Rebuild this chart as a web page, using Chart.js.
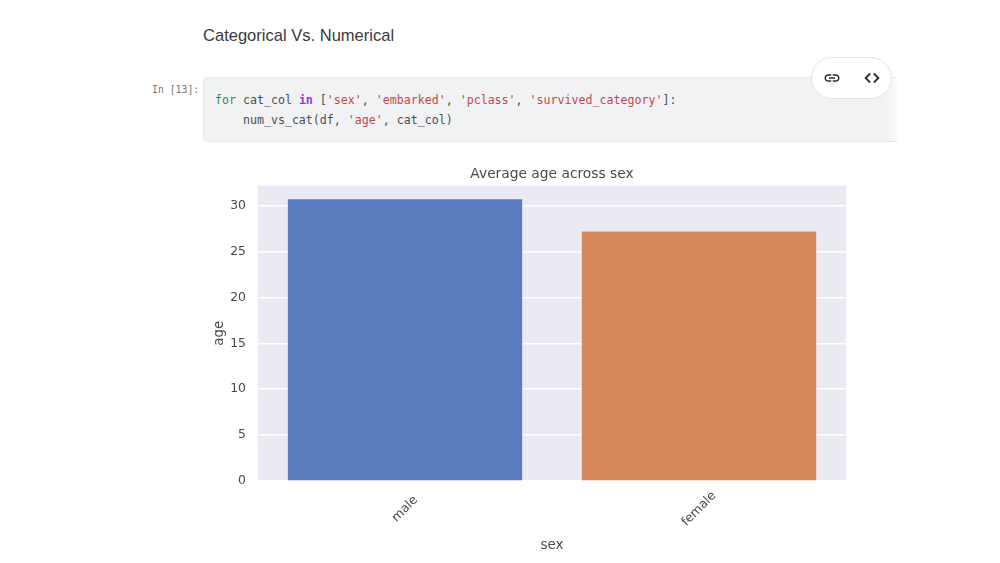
<!DOCTYPE html>
<html>
<head>
<meta charset="utf-8">
<title>Categorical Vs. Numerical</title>
<script src="https://cdn.jsdelivr.net/npm/chart.js@4/dist/chart.umd.min.js"></script>
<style>
  html, body { margin: 0; padding: 0; background: #fff; width: 1000px; height: 563px; overflow: hidden; }
  body { position: relative; font-family: "Liberation Sans", Roboto, sans-serif; }
  .heading { position: absolute; left: 203px; top: 26px; font-size: 16.55px; color: #3a3a3a; line-height: 20px; }
  .prompt { position: absolute; left: 152px; top: 84px; font: 9.8px/12px "DejaVu Sans Mono", monospace; color: #777; }
  .cell {
    position: absolute; left: 203px; top: 77px; width: 693px; height: 63px;
    background: linear-gradient(to right, #f1f2f3 98%, #f5f6f6 99.2%, #fbfbfb 100%);
    border: 1px solid #e6e7e8; border-right: none;
    border-radius: 5px 0 0 5px;
  }
  .code { position: absolute; left: 215px; top: 91px; font: 11.62px/19.5px "DejaVu Sans Mono", monospace; color: #4a4f52; white-space: pre; }
  .kw { color: #2f8a55; }
  .op { color: #a532d8; font-weight: bold; }
  .str { color: #c2474c; }
  .pill {
    position: absolute; left: 811px; top: 57px; width: 79px; height: 40px;
    background: #fff; border: 1px solid #e4e5e6; border-radius: 21px;
  }
  .pill svg { position: absolute; top: 11px; width: 18px; height: 18px; }
  #wrap { position: absolute; left: 200px; top: 161px; width: 660px; height: 393px; }
</style>
</head>
<body>
<div class="heading">Categorical Vs. Numerical</div>
<div class="prompt">In [13]:</div>
<div class="cell"></div>
<div class="code"><span class="kw">for</span> cat_col <span class="op">in</span> [<span class="str">'sex'</span>, <span class="str">'embarked'</span>, <span class="str">'pclass'</span>, <span class="str">'survived_category'</span>]:
    num_vs_cat(df, <span class="str">'age'</span>, cat_col)</div>
<div class="pill">
  <svg style="left:11px" viewBox="0 0 24 24"><path fill="#2b2b2b" d="M3.9 12c0-1.71 1.39-3.1 3.1-3.1h4V7H7c-2.76 0-5 2.24-5 5s2.24 5 5 5h4v-1.9H7c-1.71 0-3.1-1.39-3.1-3.1zM8 13h8v-2H8v2zm9-6h-4v1.9h4c1.71 0 3.1 1.39 3.1 3.1s-1.39 3.1-3.1 3.1h-4V17h4c2.76 0 5-2.24 5-5s-2.24-5-5-5z"/></svg>
  <svg style="left:51px" viewBox="0 0 24 24"><path fill="none" stroke="#2b2b2b" stroke-width="2.4" d="M9.5 6 L3.5 12 L9.5 18 M14.5 6 L20.5 12 L14.5 18"/></svg>
</div>
<div id="wrap"><canvas id="ageChart" width="660" height="393"></canvas></div>

<script>
// Values
const categories = ['male', 'female'];
const avgAge = [30.7, 27.2];
const barColors = ['#5a7cbe', '#d5885c'];
const yTicks = [0, 5, 10, 15, 20, 25, 30];
const yMax = 32.2;

const inkColor = '#4a4a4a';
const chartFont = '"DejaVu Sans", sans-serif';

// Seaborn style grey panel behind the bars
const panelBackground = {
    id: 'panelBackground',
    beforeDraw(chart) {
        const { ctx, chartArea: a } = chart;
        ctx.save();
        ctx.fillStyle = '#eaeaf2';
        ctx.fillRect(a.left, a.top, a.right - a.left, a.bottom - a.top);
        ctx.restore();
    }
};

// Matplotlib centres rotated labels on the tick, Chart.js anchors them at the end
const centredTickLabels = {
    id: 'centredTickLabels',
    afterDraw(chart) {
        const { ctx, scales, chartArea } = chart;
        ctx.save();
        ctx.font = '12.4px ' + chartFont;
        ctx.fillStyle = inkColor;
        ctx.textAlign = 'center';
        ctx.textBaseline = 'middle';
        categories.forEach((label, i) => {
            ctx.save();
            ctx.translate(scales.x.getPixelForValue(i), chartArea.bottom + 28);
            ctx.rotate(-Math.PI / 4);
            ctx.fillText(label, 0, 0);
            ctx.restore();
        });
        ctx.restore();
    }
};

new Chart(document.getElementById('ageChart').getContext('2d'), {
    type: 'bar',
    data: {
        labels: categories,
        datasets: [{
            label: 'age',
            data: avgAge,
            backgroundColor: barColors,
            barPercentage: 0.797,
            categoryPercentage: 1
        }]
    },
    plugins: [panelBackground, centredTickLabels],
    options: {
        responsive: false,
        animation: false,
        layout: { padding: { left: 11, right: 14, top: 0, bottom: 0 } },
        plugins: {
            legend: { display: false },
            tooltip: { enabled: false },
            title: {
                display: true,
                fullSize: false,
                text: 'Average age across sex',
                color: inkColor,
                font: { family: chartFont, size: 13.8, weight: 'normal' },
                padding: { top: 5, bottom: 3 }
            }
        },
        scales: {
            x: {
                grid: { display: false },
                border: { display: false },
                ticks: { display: false },
                title: {
                    display: true,
                    text: 'sex',
                    color: inkColor,
                    font: { family: chartFont, size: 13.5 },
                    padding: { top: 50, bottom: 0 }
                },
                afterFit(scale) { scale.height = 73; }
            },
            y: {
                min: 0,
                max: yMax,
                afterBuildTicks(scale) { scale.ticks = yTicks.map(v => ({ value: v })); },
                grid: { color: '#ffffff', lineWidth: 1.6, drawTicks: false },
                border: { display: false },
                ticks: {
                    color: inkColor,
                    font: { family: chartFont, size: 12.4 },
                    padding: 12,
                    includeBounds: false
                },
                title: {
                    display: true,
                    text: 'age',
                    color: inkColor,
                    font: { family: chartFont, size: 13.5 },
                    padding: { top: 0, bottom: 0 }
                },
                afterFit(scale) { scale.width = 47; }
            }
        }
    }
});
</script>
</body>
</html>
